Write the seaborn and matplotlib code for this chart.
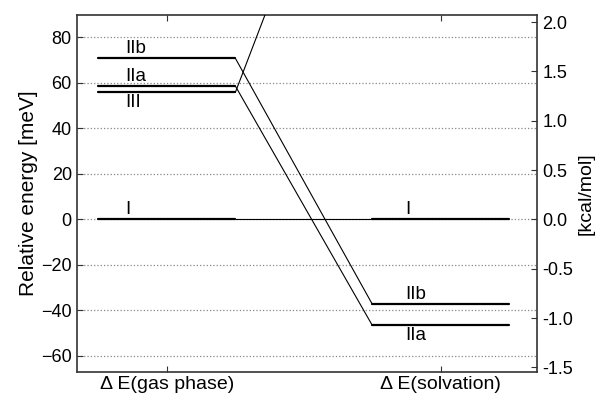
import matplotlib
matplotlib.use("Agg")
import matplotlib.pyplot as plt
import seaborn as sns
import pandas as pd
import numpy as np

# ---- data ----
phases = ["Δ E(gas phase)", "Δ E(solvation)"]
states = ["I", "IIa", "IIb", "III"]
E_gas = [0.0, 58.6, 70.8, 55.8]        # meV
E_solv = [0.0, -46.5, -37.2, 213.0]    # meV (III is off the top of the chart)
label_side_gas = ["above", "above", "above", "below"]
label_side_solv = ["above", "below", "above", "above"]
left_ticks = [-60, -40, -20, 0, 20, 40, 60, 80]
right_ticks = [-1.5, -1.0, -0.5, 0.0, 0.5, 1.0, 1.5, 2.0]
right_ticklabels = ["-1.5", "-1.0", "-0.5", "0.0", "0.5", "1.0", "1.5", "2.0"]
MEV_PER_KCAL = 43.36

sns.set_style("ticks")
plt.rcParams["font.family"] = ["Liberation Sans", "DejaVu Sans"]
plt.rcParams["axes.unicode_minus"] = True
plt.rcParams["text.color"] = "black"
plt.rcParams["axes.labelcolor"] = "black"

HALF = 0.25
bar_rows = []
for i, s in enumerate(states):
    for p, E in enumerate([E_gas[i], E_solv[i]]):
        for dx in (-HALF, HALF):
            bar_rows.append({"seg": f"{s}-{p}", "x": p + dx, "E": E})
bars = pd.DataFrame(bar_rows)

con_rows = []
for i, s in enumerate(states):
    con_rows.append({"seg": s, "x": 0 + HALF, "E": E_gas[i]})
    con_rows.append({"seg": s, "x": 1 - HALF, "E": E_solv[i]})
cons = pd.DataFrame(con_rows)

fig = plt.figure(figsize=(6.0, 3.95), dpi=100)
ax = fig.add_axes([0.129, 0.058, 0.766, 0.904])

sns.lineplot(data=cons, x="x", y="E", units="seg", estimator=None, sort=False,
             color="black", lw=0.8, ax=ax, zorder=3)
sns.lineplot(data=bars, x="x", y="E", units="seg", estimator=None, sort=False,
             color="black", lw=1.6, ax=ax, zorder=4)

ylo, yhi = -67.1, 89.8
ax.set_xlim(-0.327, 1.352)
ax.set_ylim(ylo, yhi)
ax.set_xticks([0, 1])
ax.set_xticklabels(phases)
ax.set_yticks(left_ticks)
ax.set_xlabel("")
ax.set_ylabel("Relative energy [meV]", fontsize=15, labelpad=2)
ax.yaxis.grid(True, ls=":", color="#888888", lw=0.9)
ax.tick_params(axis="both", direction="in", labelsize=13, length=4, width=0.8,
               colors="#333333", labelcolor="black")
ax.tick_params(axis="x", top=True, pad=3, labelsize=14)
ax.tick_params(axis="y", pad=4)
for sp in ax.spines.values():
    sp.set_visible(True)
    sp.set_color("#333333")
    sp.set_linewidth(1.2)

# level labels
for i, s in enumerate(states):
    for p, (E, side, xo) in enumerate([(E_gas[i], label_side_gas[i], -0.153),
                                       (E_solv[i], label_side_solv[i], -0.13)]):
        if not (ylo < E < yhi):
            continue
        off = 1 if side == "above" else -1
        ax.annotate(s, xy=(p + xo, E), xytext=(0, off), textcoords="offset points",
                    ha="left", va="bottom" if side == "above" else "top",
                    fontsize=13.5, color="black", zorder=5)

ax2 = ax.twinx()
ax2.set_ylim(ylo / MEV_PER_KCAL, yhi / MEV_PER_KCAL)
ax2.set_yticks(right_ticks)
ax2.set_yticklabels(right_ticklabels)
ax2.set_ylabel("[kcal/mol]", fontsize=14, labelpad=3)
ax2.tick_params(axis="y", direction="in", labelsize=13, length=4, width=0.8,
                colors="#333333", labelcolor="black", pad=4)
for sp in ax2.spines.values():
    sp.set_visible(False)

fig.savefig("out.png", dpi=100)
